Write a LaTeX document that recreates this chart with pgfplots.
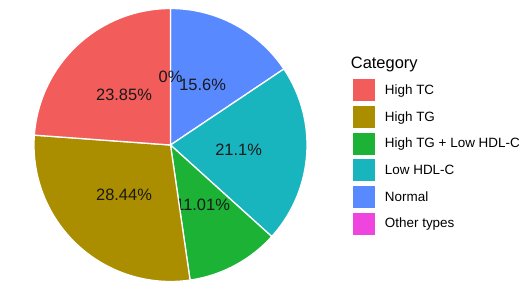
\documentclass[border=0pt]{standalone}
\usepackage{pgfplots}
\pgfplotsset{compat=1.18}
\usepackage{fontspec}
\setmainfont{Liberation Sans}
\definecolor{cTC}{HTML}{F25C5A}
\definecolor{cTG}{HTML}{AA8E00}
\definecolor{cTGL}{HTML}{1BB236}
\definecolor{cL}{HTML}{19B5BE}
\definecolor{cN}{HTML}{5889FF}
\definecolor{cO}{HTML}{F044DE}
% slice: #1 cumulative start (%), #2 share (%), #3 colour, #4 label
\newcommand{\slice}[4]{%
  \pgfmathsetmacro\sa{90-3.6*#1}%
  \pgfmathsetmacro\sb{90-3.6*(#1+#2)}%
  \pgfmathsetmacro\sm{(\sa+\sb)/2}%
  \edef\tmp{\noexpand\addplot[fill=#3, draw=white, line width=1.3bp, domain=\sb:\sa, samples=90, variable=\noexpand\t, forget plot] ({cos(t)},{sin(t)}) -- (axis cs:0,0) -- cycle;}%
  \ifdim #2pt>0pt \tmp\fi
  \edef\tmp{\noexpand\node[font=\noexpand\fontsize{16.5}{19}\noexpand\selectfont, text=black!90] at (axis cs:{0.5*cos(\sm)},{0.5*sin(\sm)}) {#4};}%
  \tmp
}
\begin{document}
\begin{tikzpicture}
\useasboundingbox (0,0) rectangle (521bp,287bp);
\begin{axis}[at={(34bp,5.5bp)}, anchor=south west, scale only axis,
  width=273bp, height=273bp, xmin=-1, xmax=1, ymin=-1, ymax=1,
  hide axis, clip=false,
  legend image code/.code={\fill[#1, draw=none] (0bp,-11bp) rectangle (22bp,11bp);},
  legend style={at={(1.1674,0.7418)}, anchor=north west, draw=none, fill=none,
    inner sep=0pt, row sep=4.7bp, column sep=10bp,
    font=\fontsize{13.5}{16}\selectfont, cells={anchor=west}, nodes={inner sep=0pt}}]
\slice{0}{15.6}{cN}{15.6\%}
\slice{15.6}{21.1}{cL}{21.1\%}
\slice{36.7}{11.01}{cTGL}{11.01\%}
\slice{47.71}{28.44}{cTG}{28.44\%}
\slice{76.15}{23.85}{cTC}{23.85\%}
\slice{100}{0}{cO}{0\%}
\addlegendimage{fill=cTC}\addlegendentry{High TC}
\addlegendimage{fill=cTG}\addlegendentry{High TG}
\addlegendimage{fill=cTGL}\addlegendentry{High TG + Low HDL-C}
\addlegendimage{fill=cL}\addlegendentry{Low HDL-C}
\addlegendimage{fill=cN}\addlegendentry{Normal}
\addlegendimage{fill=cO}\addlegendentry{Other types}
\end{axis}
\node[anchor=base west, font=\fontsize{16.5}{20}\selectfont, inner sep=0pt] at (350.7bp,218.7bp) {Category};
\end{tikzpicture}
\end{document}
